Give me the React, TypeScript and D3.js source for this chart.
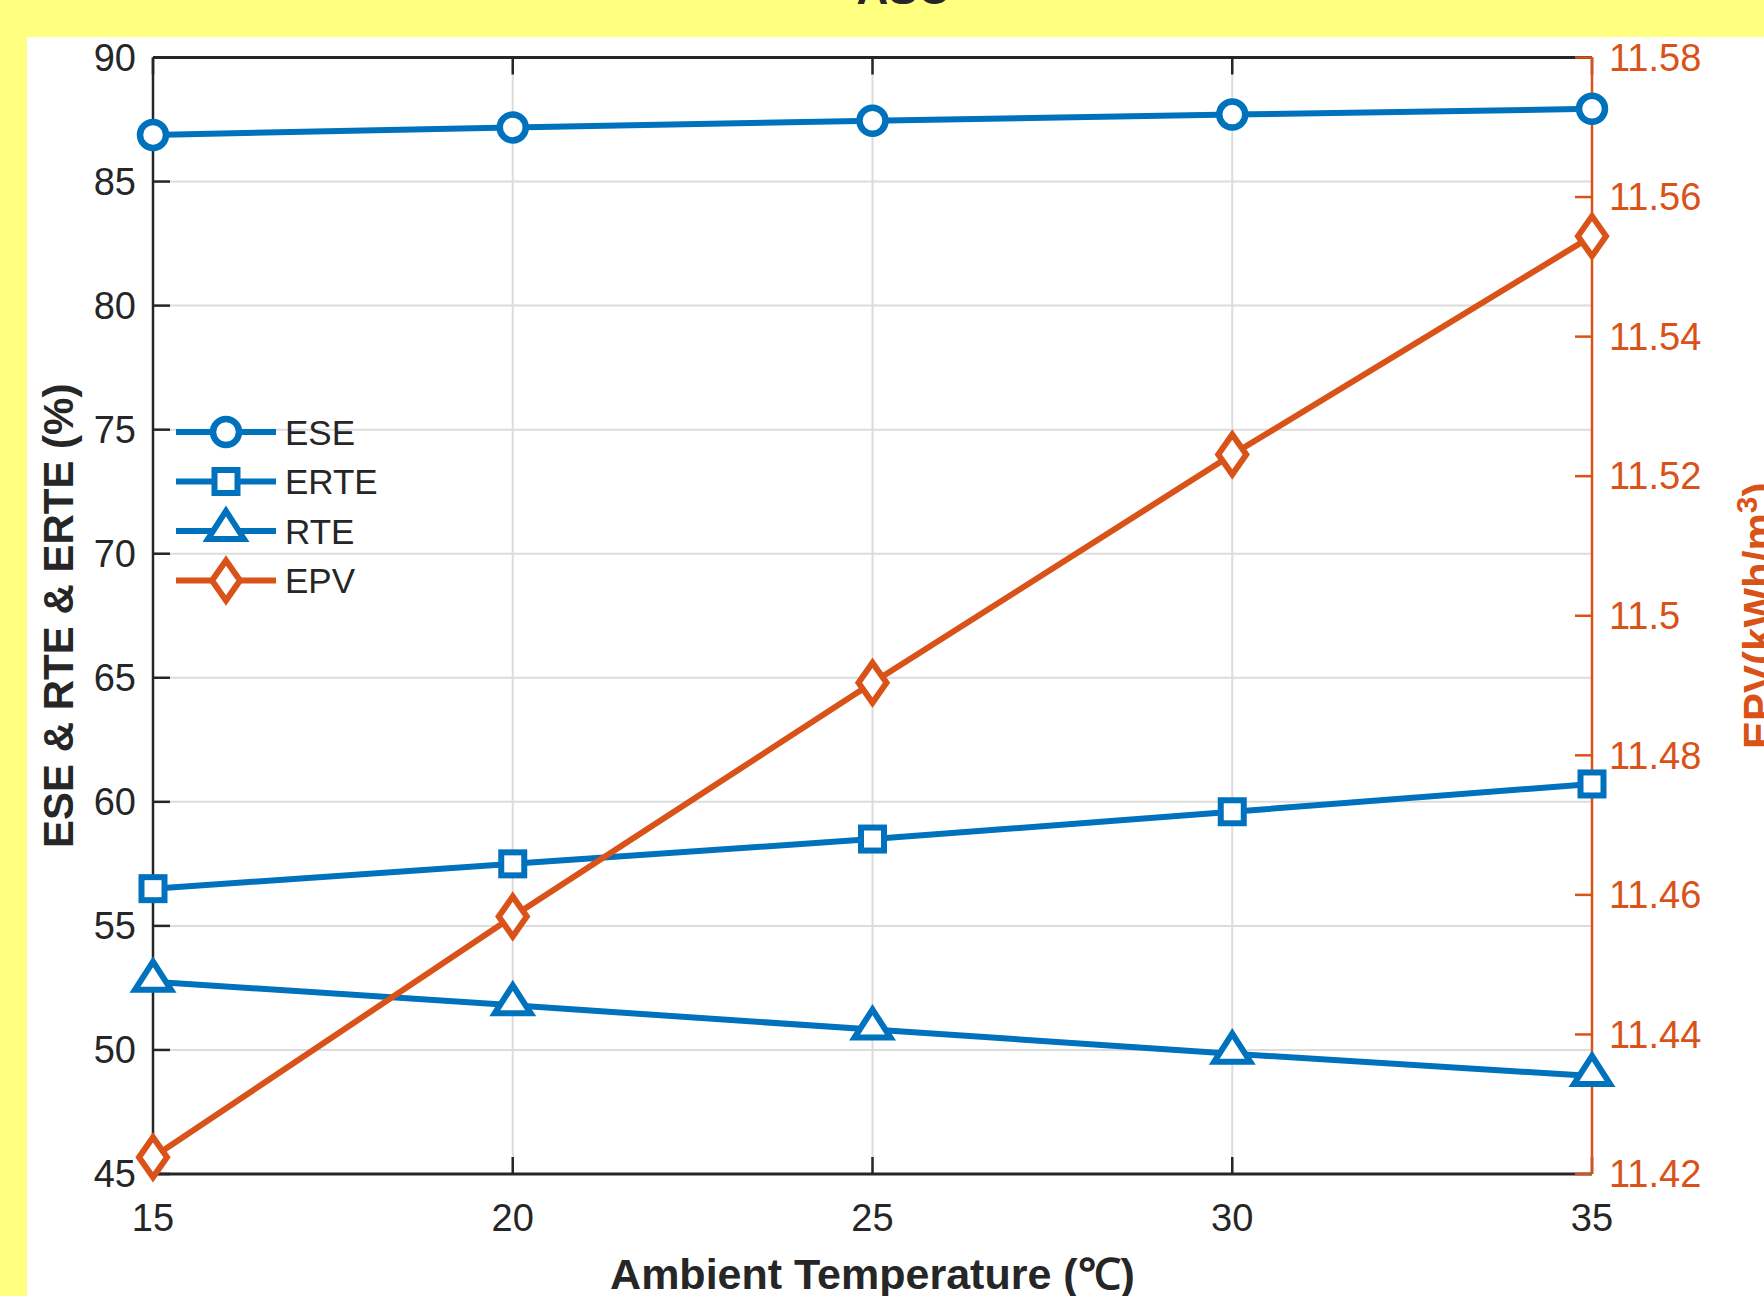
import React from 'react';
import * as d3 from 'd3';

const temps = [15, 20, 25, 30, 35];
const ese = [86.88, 87.18, 87.45, 87.7, 87.93];
const erte = [56.5, 57.5, 58.5, 59.6, 60.72];
const rte = [52.75, 51.8, 50.82, 49.85, 48.95];
const epv = [11.4224, 11.4569, 11.4904, 11.5231, 11.5544];

const xTicks = [15, 20, 25, 30, 35];
const leftTicks = [45, 50, 55, 60, 65, 70, 75, 80, 85, 90];
const rightTicks = [11.42, 11.44, 11.46, 11.48, 11.5, 11.52, 11.54, 11.56, 11.58];

const BLUE = '#0072BD';
const ORANGE = '#D95319';
const INK = '#262626';
const FONT = '"Liberation Sans", Arial, Helvetica, sans-serif';

const W = 1764;
const H = 1296;
const L = 153, R = 1592, T = 57.5, B = 1174;

const Marker = ({ kind, x, y, color }) => {
  const sw = 6;
  if (kind === 'circle')
    return <circle cx={x} cy={y} r={13} fill="white" stroke={color} strokeWidth={6.5} />;
  if (kind === 'square')
    return <rect x={x - 11.5} y={y - 11.5} width={23} height={23} fill="white" stroke={color} strokeWidth={sw} />;
  if (kind === 'triangle')
    return (
      <path d={`M${x},${y - 20}L${x + 18},${y + 8}L${x - 18},${y + 8}Z`} fill="white" stroke={color} strokeWidth={sw} strokeLinejoin="miter" />
    );
  return (
    <path d={`M${x},${y - 20}L${x + 14},${y}L${x},${y + 20}L${x - 14},${y}Z`} fill="white" stroke={color} strokeWidth={sw} strokeLinejoin="miter" />
  );
};

export default function App() {
  const x = d3.scaleLinear().domain([15, 35]).range([L, R]);
  const yL = d3.scaleLinear().domain([45, 90]).range([B, T]);
  const yR = d3.scaleLinear().domain([11.42, 11.58]).range([B, T]);

  const series = [
    { name: 'ESE', vals: ese, scale: yL, color: BLUE, kind: 'circle' },
    { name: 'ERTE', vals: erte, scale: yL, color: BLUE, kind: 'square' },
    { name: 'RTE', vals: rte, scale: yL, color: BLUE, kind: 'triangle' },
    { name: 'EPV', vals: epv, scale: yR, color: ORANGE, kind: 'diamond' },
  ];

  const tick = 17;

  return (
    <svg width={W} height={H} style={{ position: 'absolute', left: 0, top: 0 }} fontFamily={FONT}>
      <rect x={0} y={0} width={W} height={H} fill="#FFFF80" />
      <text x={903} y={4} fontSize={44} fontWeight="bold" fill={INK} textAnchor="middle">ASC</text>
      <rect x={27} y={37} width={W - 27} height={H - 37} fill="white" />

      {/* grid */}
      <g stroke="#dcdcdc" strokeWidth={2}>
        {xTicks.slice(1, -1).map((t) => (
          <line key={'gx' + t} x1={x(t)} x2={x(t)} y1={T} y2={B} />
        ))}
        {leftTicks.slice(1, -1).map((t) => (
          <line key={'gy' + t} x1={L} x2={R} y1={yL(t)} y2={yL(t)} />
        ))}
      </g>

      {/* axes frame */}
      <g stroke={INK} strokeWidth={2.5}>
        <line x1={L} x2={R} y1={T} y2={T} strokeWidth={3} />
        <line x1={L} x2={R} y1={B} y2={B} strokeWidth={3} />
        <line x1={L} x2={L} y1={T} y2={B} />
        {xTicks.map((t) => (
          <g key={'xt' + t}>
            <line x1={x(t)} x2={x(t)} y1={B} y2={B - tick} />
            <line x1={x(t)} x2={x(t)} y1={T} y2={T + tick} />
          </g>
        ))}
        {leftTicks.map((t) => (
          <line key={'lt' + t} x1={L} x2={L + tick} y1={yL(t)} y2={yL(t)} />
        ))}
      </g>
      <g stroke={ORANGE} strokeWidth={2.5}>
        <line x1={R} x2={R} y1={T} y2={B} />
        {rightTicks.map((t) => (
          <line key={'rt' + t} x1={R} x2={R - tick} y1={yR(t)} y2={yR(t)} />
        ))}
      </g>

      {/* tick labels */}
      <g fontSize={38} fill={INK}>
        {xTicks.map((t) => (
          <text key={'xl' + t} x={x(t)} y={B + 57} textAnchor="middle">{t}</text>
        ))}
        {leftTicks.map((t) => (
          <text key={'ll' + t} x={L - 17} y={yL(t)} dy="0.35em" textAnchor="end">{t}</text>
        ))}
      </g>
      <g fontSize={38} fill={ORANGE}>
        {rightTicks.map((t) => (
          <text key={'rl' + t} x={R + 17} y={yR(t)} dy="0.35em">{d3.format('~g')(t)}</text>
        ))}
      </g>

      {/* axis titles */}
      <text x={(L + R) / 2} y={1289} fontSize={43} fontWeight="bold" fill={INK} textAnchor="middle">
        Ambient Temperature (℃)
      </text>
      <text transform={`translate(73,${(T + B) / 2}) rotate(-90)`} fontSize={42} fontWeight="bold" fill={INK} textAnchor="middle">
        ESE &amp; RTE &amp; ERTE (%)
      </text>
      <text transform={`translate(1773,${(T + B) / 2}) rotate(-90)`} fontSize={42} fontWeight="bold" fill={ORANGE} textAnchor="middle">
        EPV(kWh/m<tspan dy={-16} fontSize={30}>3</tspan><tspan dy={16}>)</tspan>
      </text>

      {/* series */}
      {series.map((s) => {
        const line = d3.line().x((d) => x(d[0])).y((d) => s.scale(d[1]));
        const pts = temps.map((t, i) => [t, s.vals[i]]);
        return (
          <g key={s.name}>
            <path d={line(pts)} fill="none" stroke={s.color} strokeWidth={6} />
            {pts.map((p, i) => (
              <Marker key={i} kind={s.kind} x={x(p[0])} y={s.scale(p[1])} color={s.color} />
            ))}
          </g>
        );
      })}

      {/* legend */}
      {series.map((s, i) => {
        const ly = 432 + i * 49.5;
        return (
          <g key={'lg' + s.name}>
            <line x1={176} x2={276} y1={ly} y2={ly} stroke={s.color} strokeWidth={6} />
            <Marker kind={s.kind} x={226} y={ly} color={s.color} />
            <text x={285} y={ly} dy="0.36em" fontSize={35} fill={INK}>{s.name}</text>
          </g>
        );
      })}
    </svg>
  );
}
